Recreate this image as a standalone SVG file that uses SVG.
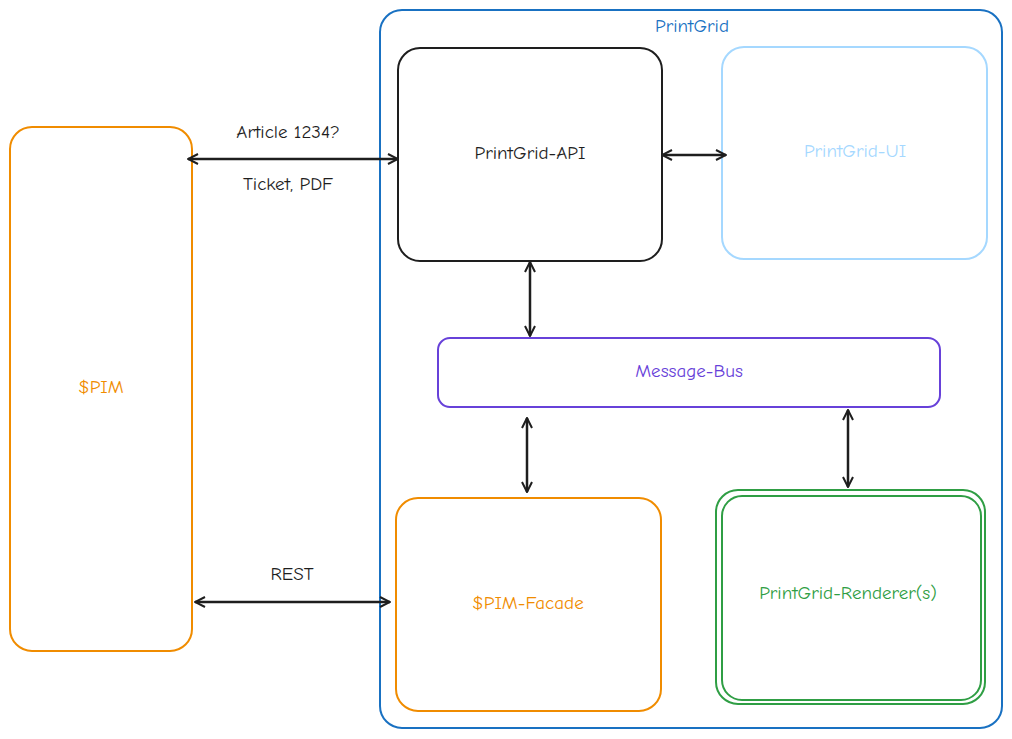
<svg xmlns="http://www.w3.org/2000/svg" width="1012" height="739" viewBox="0 0 1012 739">
<style>
text{font-family:"Comic Neue","DejaVu Sans",sans-serif;font-size:19px;text-anchor:middle;dominant-baseline:middle}
.b{fill:none;stroke-width:2}
.c{stroke:#1e1e1e;stroke-width:2.5;fill:none;marker-start:url(#a);marker-end:url(#a)}
</style>
<defs><marker id="a" viewBox="0 0 12 12" refX="11" refY="6" markerWidth="12" markerHeight="12" markerUnits="userSpaceOnUse" orient="auto-start-reverse"><path d="M1,1 L11,6 L1,11" fill="none" stroke="#1e1e1e" stroke-width="2"/></marker></defs>
<rect width="1012" height="739" fill="#fff"/>
<g id="printgrid"><rect class="b" x="380" y="10" width="622" height="718" rx="22" stroke="#1971c2"/><text x="692" y="27" fill="#1971c2">PrintGrid</text></g>
<g id="pim"><rect class="b" x="10" y="127" width="182" height="524" rx="22" stroke="#f08c00"/><text x="101" y="388" fill="#f08c00">$PIM</text></g>
<g id="api"><rect class="b" x="398" y="48" width="264" height="213" rx="22" stroke="#1e1e1e"/><text x="530" y="154" fill="#1e1e1e">PrintGrid-API</text></g>
<g id="ui"><rect class="b" x="722" y="47" width="265" height="212" rx="22" stroke="#a5d8ff"/><text x="855" y="152" fill="#a5d8ff">PrintGrid-UI</text></g>
<g id="bus"><rect class="b" x="438" y="338" width="502" height="69" rx="12" stroke="#6741d9"/><text x="689" y="372" fill="#6741d9">Message-Bus</text></g>
<g id="facade"><rect class="b" x="396" y="498" width="265" height="213" rx="22" stroke="#f08c00"/><text x="528" y="604" fill="#f08c00">$PIM-Facade</text></g>
<g id="renderer"><rect class="b" x="716" y="490" width="269" height="214" rx="22" stroke="#2f9e44"/><rect class="b" x="722" y="496" width="259" height="204" rx="20" stroke="#2f9e44"/><text x="848" y="594" fill="#2f9e44">PrintGrid-Renderer(s)</text></g>
<g id="connectors">
<line class="c" x1="188" y1="159" x2="398" y2="159"/>
<line class="c" x1="662" y1="155" x2="726" y2="155"/>
<line class="c" x1="530" y1="262" x2="530" y2="336"/>
<line class="c" x1="527" y1="418" x2="527" y2="492"/>
<line class="c" x1="848" y1="410" x2="848" y2="487"/>
<line class="c" x1="195" y1="602" x2="390" y2="602"/>
<text x="288" y="133" fill="#1e1e1e">Article 1234?</text>
<text x="288" y="185" fill="#1e1e1e">Ticket, PDF</text>
<text x="292" y="575" fill="#1e1e1e">REST</text>
</g>
</svg>
